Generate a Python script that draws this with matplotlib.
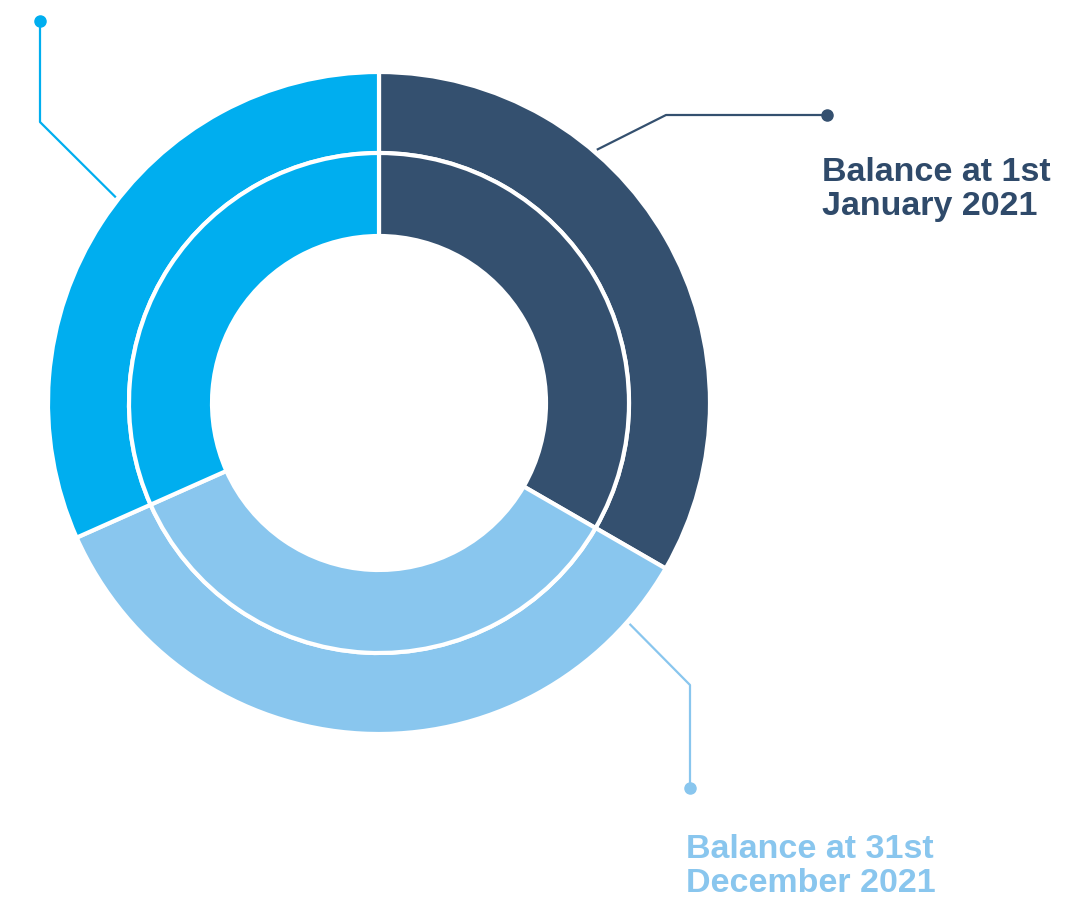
"""Nested donut: balance at start vs end of 2021, with leader-line labels."""

import matplotlib

matplotlib.use("Agg")
import matplotlib.pyplot as plt
import numpy as np

# segment shares (degrees), clockwise from 12 o'clock
categories = ["Balance at 1st\nJanuary 2021", "Balance at 31st\nDecember 2021", ""]
outer_values = [120, 126, 114]
inner_values = [120, 126, 114]

NAVY = "#34506f"
LIGHT = "#89c6ee"
BRIGHT = "#00aeef"
colors = [NAVY, LIGHT, BRIGHT]
text_colors = ["#2f4a6a", LIGHT, BRIGHT]

W, H = 1080, 897
CX, CY = 379, H - 403
R_OUT, R_MID, R_IN = 331, 250, 167

fig = plt.figure(figsize=(W / 100, H / 100), dpi=100)
ax = fig.add_axes([0, 0, 1, 1])

wedge = dict(edgecolor="white", linewidth=3)
ax.pie(outer_values, radius=R_OUT, center=(CX, CY), startangle=90, counterclock=False,
       colors=colors, wedgeprops=dict(width=R_OUT - R_MID, **wedge))
ax.pie(inner_values, radius=R_MID, center=(CX, CY), startangle=90, counterclock=False,
       colors=colors, wedgeprops=dict(width=R_MID - R_IN, **wedge))

ax.set_xlim(0, W)
ax.set_ylim(0, H)
ax.set_aspect("equal")
ax.axis("off")

# leader lines: (angle on outer edge, kink, end dot) in pixel coords (y down)
leaders = [
    (49.3, (666, 115), (827, 115)),
    (-41.4, (690, 685), (690, 788)),
    (142.0, (40, 122), (40, 21)),
]
# left edge and baseline of the last label line (pixels, y down)
label_pos = [(822, 215), (686, 892), None]

for (ang, kink, end), col, tcol, lab, pos in zip(leaders, colors, text_colors, categories, label_pos):
    a = np.deg2rad(ang)
    sx, sy = CX + 334 * np.cos(a), CY + 334 * np.sin(a)
    xs = [sx, kink[0], end[0]]
    ys = [sy, H - kink[1], H - end[1]]
    ax.plot(xs, ys, color=col, linewidth=1.6, solid_capstyle="butt")
    ax.plot(end[0], H - end[1], "o", color=col, markersize=8)
    if lab and pos:
        ax.text(pos[0], H - pos[1], lab, color=tcol, fontsize=24.5, fontweight="bold",
                family="Liberation Sans", ha="left", va="baseline", linespacing=1.12)

fig.savefig("out.png", dpi=100)
